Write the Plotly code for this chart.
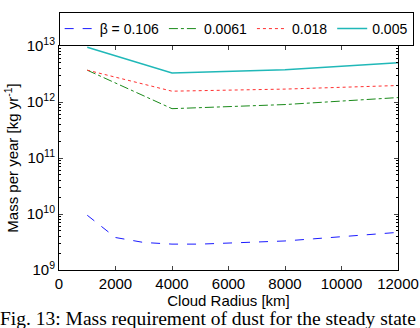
import plotly.graph_objects as go

radius = [1000, 2000, 3000, 4000, 5000, 6000, 7000, 8000, 9000, 10000, 11000, 12000]
radius_c = [1000, 4000, 8000, 12000]
beta_labels = ["β = 0.106", "0.0061", "0.018", "0.005"]
m_0106 = [9.5e9, 3.8e9, 3.1e9, 2.9e9, 2.9e9, 3.0e9, 3.15e9, 3.3e9, 3.6e9, 3.95e9, 4.3e9, 4.7e9]
m_0061 = [3.7e12, 7.6e11, 9.0e11, 1.2e12]
m_0018 = [3.7e12, 1.56e12, 1.7e12, 1.97e12]
m_0005 = [9.5e12, 3.3e12, 3.75e12, 5.0e12]
ytick_vals = [1e9, 1e10, 1e11, 1e12, 1e13]
ytick_text = ["10<sup>9</sup>", "10<sup>10</sup>", "10<sup>11</sup>", "10<sup>12</sup>", "10<sup>13</sup>"]
xtick_vals = [0, 2000, 4000, 6000, 8000, 10000, 12000]
xtick_text = ["0", "2000", "4000", "6000", "8000", "10000", "12000"]
yminor_vals = [k * 10 ** e for e in range(9, 13) for k in range(2, 10)]

fig = go.Figure()
fig.add_trace(go.Scatter(x=radius, y=m_0106, mode="lines", name=beta_labels[0],
                         line=dict(color="#1a1aff", dash="dash", width=1)))
fig.add_trace(go.Scatter(x=radius_c, y=m_0061, mode="lines", name=beta_labels[1],
                         line=dict(color="#1a8a1a", dash="dashdot", width=1)))
fig.add_trace(go.Scatter(x=radius_c, y=m_0018, mode="lines", name=beta_labels[2],
                         line=dict(color="#ff3030", dash="dot", width=1)))
fig.add_trace(go.Scatter(x=radius_c, y=m_0005, mode="lines", name=beta_labels[3],
                         line=dict(color="#20b8b8", dash="solid", width=1.5)))

font = dict(family="Liberation Sans, Arial", size=15, color="black")
fig.update_layout(
    width=420, height=328,
    margin=dict(l=59, r=22, t=32, b=58),
    paper_bgcolor="white", plot_bgcolor="white",
    font=font,
    showlegend=True,
    legend=dict(orientation="h", x=-0.001, y=1.0, xanchor="left", yanchor="bottom",
                bordercolor="black", borderwidth=1, font=dict(size=14),
                itemwidth=30, tracegroupgap=0),
    xaxis=dict(range=[0, 12000], tickvals=xtick_vals, ticktext=xtick_text,
               ticks="inside", ticklen=4, automargin=False,
               showline=True, mirror="ticks", linecolor="black", linewidth=1,
               showgrid=False, zeroline=False,
               title=dict(text="Cloud Radius [km]", standoff=0, font=dict(size=15))),
    yaxis=dict(type="log", range=[9, 13], tickvals=ytick_vals, ticktext=ytick_text,
               ticks="inside", ticklen=4, automargin=False, showline=True, mirror="ticks",
               linecolor="black", linewidth=1, showgrid=False, zeroline=False,
               tickfont=dict(size=15),
               minor=dict(ticks="inside", ticklen=2, tickvals=yminor_vals,
                          tickcolor="black", showgrid=False),
               title=dict(text="Mass per year [kg yr<sup>-1</sup>]", standoff=4, font=dict(size=15))),
)
fig.add_annotation(text="Fig. 13: Mass requirement of dust for the steady state",
                   xref="paper", yref="paper", x=-0.18, y=-0.16, xanchor="left", yanchor="top",
                   showarrow=False, font=dict(family="Liberation Serif, Times New Roman", size=19.5, color="black"))
fig.write_html("out.html")
